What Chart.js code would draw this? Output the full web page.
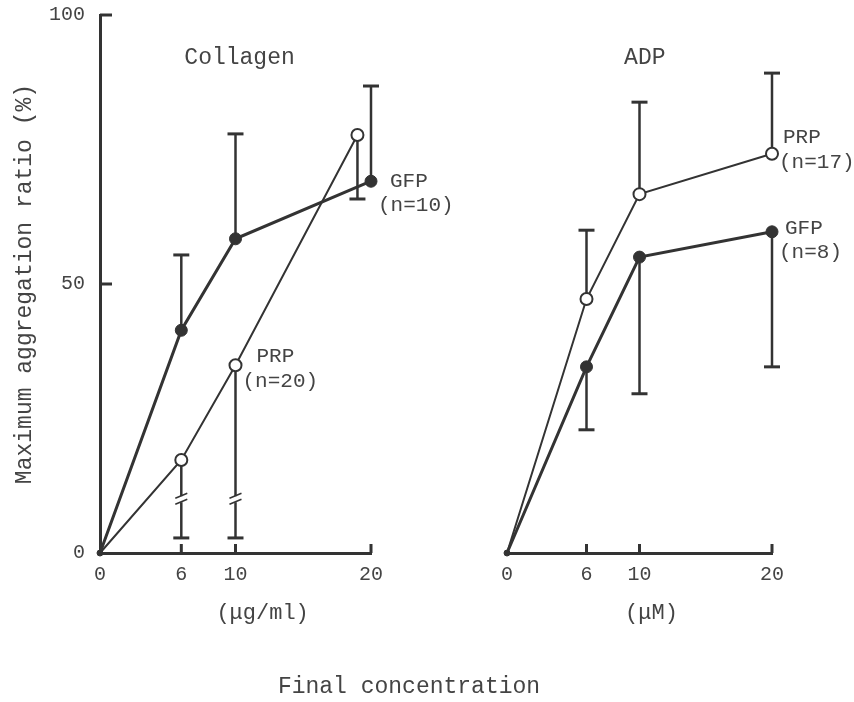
<!DOCTYPE html>
<html><head><meta charset="UTF-8">
<title>Maximum aggregation ratio</title>
<script src="https://cdn.jsdelivr.net/npm/chart.js@4"></script>
<style>
  body { margin: 0; background: #fff; }
  #wrap { position: relative; width: 854px; height: 702px; }
  #wrap canvas { position: absolute; left: 0; top: 0; }
  #xtitle {
    position: absolute; left: 0; top: 673px; width: 818px; text-align: center;
    font: 23px 'Liberation Mono', 'DejaVu Sans Mono', monospace; line-height: 28px; color: #444;
  }
</style>
</head>
<body>
<div id="wrap">
  <canvas id="collagen" width="854" height="702"></canvas>
  <canvas id="adp" width="854" height="702"></canvas>
  <div id="xtitle">Final concentration</div>
</div>
<script>
// tick labels
const xTicks = [0, 6, 10, 20];
const yTicks = [0, 50, 100];

// Collagen panel (µg/ml)
const collagenX = [0, 6, 10, 20];
const collagenGfp = [0, 41.4, 58.4, 69.1];
const collagenGfpHi = [null, 55.4, 77.9, 86.8];
const collagenPrpX = [0, 6, 10, 19];   // last open circle sits just left of 20 in the original
const collagenPrp = [0, 17.3, 34.9, 77.7];
const collagenPrpLo = [null, 2.8, 2.8, 65.8];
const collagenPrpBreak = [null, 10, 10, null];

// ADP panel (µM)
const adpX = [0, 6, 10, 20];
const adpPrp = [0, 47.2, 66.7, 74.2];
const adpPrpHi = [null, 60.0, 83.8, 89.2];
const adpGfp = [0, 34.6, 55.0, 59.7];
const adpGfpLo = [null, 22.9, 29.6, 34.6];

const ink = '#333';
const txt = '#444';
const FONT = "'Liberation Mono', 'DejaVu Sans Mono', monospace";

function pts(xs, ys) {
  return xs.map((x, i) => ({x: x, y: ys[i]}));
}

function line(ctx, x1, y1, x2, y2) {
  ctx.beginPath(); ctx.moveTo(x1, y1); ctx.lineTo(x2, y2); ctx.stroke();
}

const decor = {
  id: 'decor',
  beforeDatasetsDraw(chart) {
    const {ctx, scales: {x, y}} = chart;
    ctx.save();
    ctx.strokeStyle = ink;
    chart.data.datasets.forEach(ds => {
      ds.data.forEach((p, i) => {
        const px = x.getPixelForValue(p.x), py = y.getPixelForValue(p.y);
        [ds.errHi, ds.errLo].forEach(arr => {
          if (!arr || arr[i] == null) return;
          const ey = y.getPixelForValue(arr[i]);
          ctx.lineWidth = 2.5;
          line(ctx, px, py, px, ey);
          ctx.lineWidth = 3;
          line(ctx, px - 8, ey, px + 8, ey);
        });
        if (ds.breaks && ds.breaks[i] != null) {
          const by = y.getPixelForValue(ds.breaks[i]);
          ctx.fillStyle = '#fff';
          ctx.fillRect(px - 3, by - 3, 6, 6);
          ctx.lineWidth = 1.5;
          line(ctx, px - 6, by - 1, px + 6, by - 6);
          line(ctx, px - 6, by + 5, px + 6, by);
        }
      });
    });
    ctx.restore();
  },
  afterDraw(chart, args, o) {
    const {ctx, chartArea: a, scales: {x, y}} = chart;
    ctx.save();
    ctx.strokeStyle = ink;
    ctx.lineWidth = 3;
    // inward tick marks
    xTicks.forEach(v => {
      if (v === 0) return;
      const px = x.getPixelForValue(v);
      line(ctx, px, a.bottom, px, a.bottom - 9);
    });
    if (o.yTicks) {
      yTicks.forEach(v => {
        if (v === 0) return;
        const py = y.getPixelForValue(v);
        line(ctx, a.left, py, a.left + 12, py);
      });
    }
    ctx.fillStyle = txt;
    ctx.textBaseline = 'middle';
    // panel title and unit
    ctx.textAlign = 'center';
    (o.texts || []).forEach(t => {
      ctx.font = t.size + 'px ' + FONT;
      ctx.fillText(t.text, x.getPixelForValue(t.x), y.getPixelForValue(t.y));
    });
    // series labels next to points
    ctx.textAlign = 'left';
    ctx.font = '21px ' + FONT;
    (o.tags || []).forEach(t => {
      const p = chart.data.datasets[t.ds].data[t.i];
      const px = x.getPixelForValue(p.x), py = y.getPixelForValue(p.y);
      t.items.forEach(it => ctx.fillText(it.t, px + it.dx, py + it.dy));
    });
    ctx.restore();
  }
};

function xScale() {
  return {
    type: 'linear', min: 0, max: 20,
    grid: {display: false, drawTicks: false},
    border: {display: true, color: ink, width: 3},
    ticks: {font: {family: FONT, size: 20}, color: txt, padding: 10},
    afterBuildTicks: s => { s.ticks = xTicks.map(v => ({value: v})); },
    afterFit: s => { s.height = 40; s.paddingLeft = 0; s.paddingRight = 0; }
  };
}

function yScale(show) {
  return {
    type: 'linear', min: 0, max: 100, display: show,
    grid: {display: false, drawTicks: false},
    border: {display: true, color: ink, width: 3},
    ticks: {font: {family: FONT, size: 20}, color: txt, padding: 15},
    title: {display: true, text: 'Maximum aggregation ratio (%)', color: txt,
            font: {family: FONT, size: 23}, padding: {top: 11}},
    afterBuildTicks: s => { s.ticks = yTicks.map(v => ({value: v})); },
    afterFit: s => {
      if (show) s.width = 100;
      s.paddingTop = 0; s.paddingBottom = 0;
    }
  };
}

function gfp(xs, ys, hi, lo) {
  return {
    label: 'GFP', data: pts(xs, ys), errHi: hi, errLo: lo,
    borderColor: ink, borderWidth: 3, backgroundColor: ink,
    pointRadius: [3, 6, 6, 6], pointBackgroundColor: ink, pointBorderColor: ink,
    pointBorderWidth: 1, tension: 0, clip: false
  };
}

function prp(xs, ys, hi, lo, breaks) {
  return {
    label: 'PRP', data: pts(xs, ys), errHi: hi, errLo: lo, breaks: breaks,
    borderColor: ink, borderWidth: 2, backgroundColor: '#fff',
    pointRadius: [0, 6, 6, 6], pointBackgroundColor: '#fff', pointBorderColor: ink,
    pointBorderWidth: 2, tension: 0, clip: false
  };
}

new Chart(document.getElementById('collagen'), {
  type: 'line',
  data: {
    datasets: [
      gfp(collagenX, collagenGfp, collagenGfpHi, null),
      prp(collagenPrpX, collagenPrp, null, collagenPrpLo, collagenPrpBreak)
    ]
  },
  options: {
    responsive: false, animation: false, events: [],
    layout: {padding: {left: 0, top: 15, right: 483, bottom: 109}},
    scales: {x: xScale(), y: yScale(true)},
    plugins: {
      legend: {display: false}, tooltip: {enabled: false},
      decor: {
        yTicks: true,
        texts: [
          {text: 'Collagen', x: 10.3, y: 92, size: 23},
          {text: '(\u03bcg/ml)', x: 12, y: -11.2, size: 22}
        ],
        tags: [
          {ds: 0, i: 3, items: [{t: 'GFP', dx: 19, dy: 0}, {t: '(n=10)', dx: 7, dy: 24}]},
          {ds: 1, i: 2, items: [{t: 'PRP', dx: 21, dy: -9}, {t: '(n=20)', dx: 7, dy: 16}]}
        ]
      }
    }
  },
  plugins: [decor]
});

new Chart(document.getElementById('adp'), {
  type: 'line',
  data: {
    datasets: [
      gfp(adpX, adpGfp, null, adpGfpLo),
      prp(adpX, adpPrp, adpPrpHi, null, null)
    ]
  },
  options: {
    responsive: false, animation: false, events: [],
    layout: {padding: {left: 507, top: 15, right: 82, bottom: 109}},
    scales: {x: xScale(), y: yScale(false)},
    plugins: {
      legend: {display: false}, tooltip: {enabled: false},
      decor: {
        yTicks: false,
        texts: [
          {text: 'ADP', x: 10.4, y: 92, size: 23},
          {text: '(\u03bcM)', x: 10.9, y: -11.2, size: 22}
        ],
        tags: [
          {ds: 1, i: 3, items: [{t: 'PRP', dx: 11, dy: -16}, {t: '(n=17)', dx: 7, dy: 9}]},
          {ds: 0, i: 3, items: [{t: 'GFP', dx: 13, dy: -3}, {t: '(n=8)', dx: 7, dy: 21}]}
        ]
      }
    }
  },
  plugins: [decor]
});
</script>
</body></html>
